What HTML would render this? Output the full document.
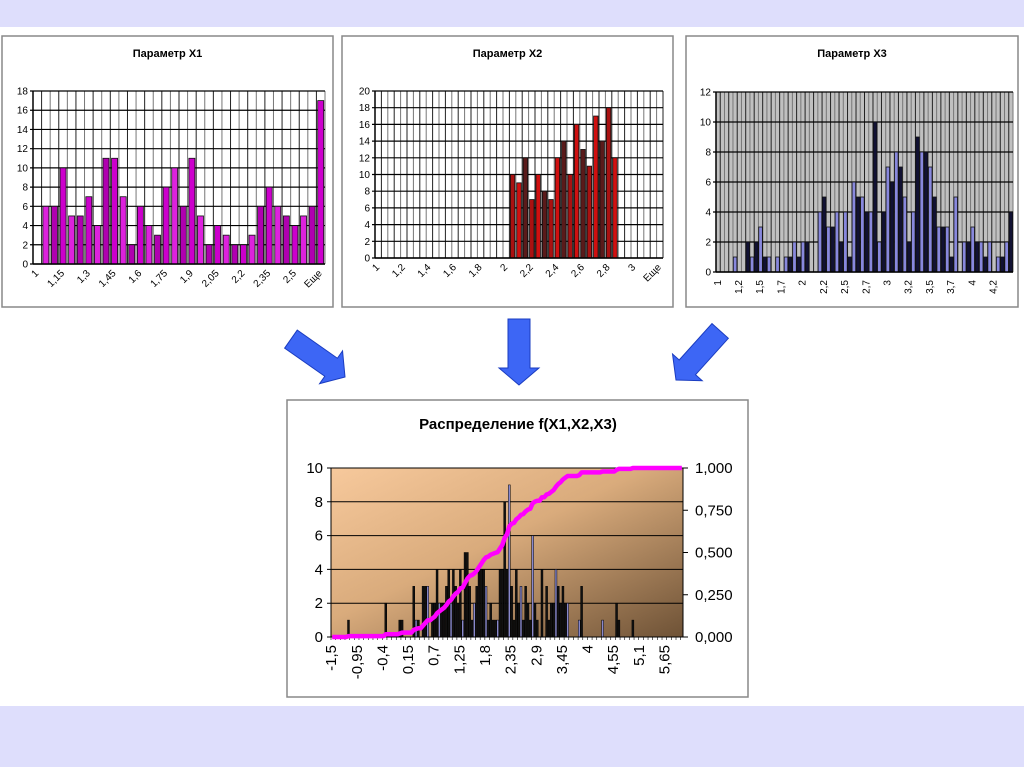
<!DOCTYPE html>
<html><head><meta charset="utf-8"><style>
html,body{margin:0;padding:0;background:#fff;}
svg{display:block;font-family:"Liberation Sans",sans-serif;}
</style></head><body>
<svg id="s" width="1024" height="767" viewBox="0 0 1024 767" xmlns="http://www.w3.org/2000/svg">
<defs>
<linearGradient id="tan" x1="0" y1="0" x2="1" y2="1">
<stop offset="0" stop-color="#f7c99c"/><stop offset="0.45" stop-color="#d9ab7c"/><stop offset="1" stop-color="#6e5236"/>
</linearGradient>
</defs>
<rect x="0" y="0" width="1024" height="27" fill="#dedefc"/>
<rect x="0" y="706" width="1024" height="61" fill="#dedefc"/>
<g id="arrows"></g>
</svg>
<script>
function fmt(v, d) { let s = (Math.round(v * 100000) / 100000).toFixed(d); s = s.replace(/\.?0+$/, ''); if (s === '-0') s = '0'; return s.replace('.', ','); }
function fmtFloor(v) { return fmt(Math.floor(v * 10 + 1e-6) / 10, 1); }
// ---- data ----
const x1Cats = ["1","1,05","1,1","1,15","1,2","1,25","1,3","1,35","1,4","1,45","1,5","1,55","1,6","1,65","1,7","1,75","1,8","1,85","1,9","1,95","2","2,05","2,1","2,15","2,2","2,25","2,3","2,35","2,4","2,45","2,5","2,55","2,6","Еще"];
const x1Values = [0,6,6,10,5,5,7,4,11,11,7,2,6,4,3,8,10,6,11,5,2,4,3,2,2,3,6,8,6,5,4,5,6,17];
const x1Ticks = [0,2,4,6,8,10,12,14,16,18];

const x2Cats = [];
for (let i = 0; i < 44; i++) x2Cats.push(fmt(1 + i * 0.05, 2));
x2Cats.push("Еще");
const x2Values = [0,0,0,0,0,0,0,0,0,0,0,0,0,0,0,0,0,0,0,0,0,10,9,12,7,10,8,7,12,14,10,16,13,11,17,14,18,12,0,0,0,0,0,0,0];
const x2Ticks = [0,2,4,6,8,10,12,14,16,18,20];

const x3Cats = [];
for (let i = 0; i < 70; i++) x3Cats.push(fmtFloor(1 + i * 0.05));
const x3Values = [0,0,0,0,1,0,0,2,1,2,3,1,1,0,1,0,1,1,2,1,2,2,0,0,4,5,3,3,4,2,4,1,6,5,5,4,4,10,2,4,7,6,8,7,5,2,4,9,8,8,7,5,3,3,3,1,5,0,2,2,3,2,2,1,2,0,1,1,2,4];
const x3Ticks = [0,2,4,6,8,10,12];

const fCats = [];
for (let i = 0; i < 151; i++) fCats.push(fmt(-1.5 + i * 0.05, 2));
const fValues = [0,0,0,0,0,0,0,1,0,0,0,0,0,0,0,0,0,0,0,0,0,0,0,2,0,0,0,0,0,1,1,0,0,0,0,3,1,1,0,3,3,3,0,2,2,4,2,2,2,3,4,2,4,3,2,4,1,5,5,3,1,2,3,4,4,4,3,1,2,1,1,1,4,4,8,4,9,3,1,4,2,3,1,3,2,1,6,2,1,0,4,0,3,1,2,2,4,3,2,3,2,2,0,0,0,0,1,3,0,0,0,0,0,0,0,0,1,0,0,0,0,0,2,1,0,0,0,0,0,1,0,0,0,0,0,0,0,0,0,0,0,0,0,0,0,0,0,0,0,0,0];
const fTicksL = [0,2,4,6,8,10];
const fTicksR = ["0,000","0,250","0,500","0,750","1,000"];

const NS = "http://www.w3.org/2000/svg";
const svg = document.getElementById('s');
function mk(tag, attrs, parent, text) {
  const e = document.createElementNS(NS, tag);
  for (const k in attrs) e.setAttribute(k, attrs[k]);
  if (text !== undefined) e.textContent = text;
  (parent || svg).appendChild(e);
  return e;
}

function smallChart(opt) {
  const g = mk('g', {});
  
  
  const box = mk('rect', {x: opt.bx, y: 36, width: opt.bw, height: 271, fill: '#fff', stroke: '#888', 'stroke-width': 1.5}, g);
  
  
  const t = mk('text', {x: opt.bx + opt.bw / 2, y: 57, 'font-size': 11, 'font-weight': 'bold', 'text-anchor': 'middle'}, g, opt.title);
  
  
  const L = opt.L, R = opt.R, T = opt.T, B = opt.B;
  const n = opt.cats.length, cw = (R - L) / n;
  const xs = i => L + i * cw;
  const ys = v => B - (v / opt.max) * (B - T);
  mk('rect', {x: L, y: T, width: R - L, height: B - T, fill: opt.bg}, g);
  for (let i = 0; i <= n; i++) {
    const ln = mk('line', {x1: xs(i), x2: xs(i), y1: T, y2: B, stroke: i % 2 ? '#222' : '#777', 'stroke-width': 1}, g);
    
    
  }
  opt.ticks.forEach(v => {
    const ln = mk('line', {x1: L - 3, x2: R, y1: ys(v), y2: ys(v), stroke: '#000', 'stroke-width': 1.2}, g);
    
    
    const tl = mk('text', {x: L - 5, y: ys(v) + 3.5, 'font-size': 10, 'text-anchor': 'end'}, g, String(v));
    
    
  });
  opt.values.forEach((v, i) => {
    if (!v) return;
    const bw = cw * opt.barFrac;
    const r = mk('rect', {x: xs(i) + (cw - bw) / 2, y: ys(v), width: bw, height: B - ys(v), fill: opt.colors[i % opt.colors.length], stroke: '#111', 'stroke-width': 0.8}, g);
    
    
  });
  mk('line', {x1: L, x2: L, y1: T, y2: B, stroke: '#000', 'stroke-width': 1.5}, g);
  mk('line', {x1: L, x2: R, y1: B, y2: B, stroke: '#000', 'stroke-width': 1.5}, g);
  opt.cats.forEach((c, i) => {
    if (i % opt.every) return;
    const cx = xs(i) + cw / 2, cy = B + 8;
    const tl = mk('text', {x: cx, y: cy, 'font-size': 10, 'text-anchor': 'end', transform: `rotate(${opt.rot} ${cx} ${cy})`, 'dominant-baseline': 'middle'}, g, c);
    
    
  });
}

smallChart({name: 'chart-x1', title: 'Параметр X1', bx: 2, bw: 331, L: 33, R: 325, T: 91, B: 264, max: 18,
  cats: x1Cats, values: x1Values, ticks: x1Ticks, bg: '#fff', colors: ['#cc00cc', '#dd22dd', '#b000b0'], barFrac: 0.7, every: 3, rot: -45});
smallChart({name: 'chart-x2', title: 'Параметр X2', bx: 342, bw: 331, L: 375, R: 663, T: 91, B: 258, max: 20,
  cats: x2Cats, values: x2Values, ticks: x2Ticks, bg: '#fff', colors: ['#aa1111', '#d01010', '#5a1a1a'], barFrac: 0.7, every: 4, rot: -45});
smallChart({name: 'chart-x3', title: 'Параметр X3', bx: 686, bw: 332, L: 716, R: 1013, T: 92, B: 272, max: 12,
  cats: x3Cats, values: x3Values, ticks: x3Ticks, bg: '#c0c0c0', colors: ['#8888dd', '#111133'], barFrac: 0.85, every: 5, rot: -90});

// ---- bottom chart ----
(function () {
  const g = mk('g', {});
  
  
  const fr = mk('rect', {x: 287, y: 400, width: 461, height: 297, fill: '#fff', stroke: '#888', 'stroke-width': 1.5}, g);
  
  
  const t = mk('text', {x: 518, y: 429, 'font-size': 15, 'font-weight': 'bold', 'text-anchor': 'middle'}, g, 'Распределение f(X1,X2,X3)');
  
  
  const L = 331, R = 683, T = 468, B = 637;
  const n = fCats.length, cw = (R - L) / n;
  const xs = i => L + i * cw;
  const ys = v => B - (v / 10) * (B - T);
  const ys2 = p => B - p * (B - T);
  const pa = mk('rect', {x: L, y: T, width: R - L, height: B - T, fill: 'url(#tan)'}, g);
  
  
  fTicksL.forEach(v => {
    mk('line', {x1: L - 4, x2: R, y1: ys(v), y2: ys(v), stroke: '#000', 'stroke-width': 1}, g);
    const tl = mk('text', {x: L - 8, y: ys(v) + 5, 'font-size': 15, 'text-anchor': 'end'}, g, String(v));
    
    
  });
  fTicksR.forEach((s, i) => {
    const p = i / (fTicksR.length - 1);
    mk('line', {x1: R, x2: R + 5, y1: ys2(p), y2: ys2(p), stroke: '#000', 'stroke-width': 1}, g);
    const tl = mk('text', {x: R + 12, y: ys2(p) + 5, 'font-size': 15}, g, s);
    
    
  });
  fValues.forEach((v, i) => {
    if (!v) return;
    const r = mk('rect', {x: xs(i) + 0.2, y: ys(v), width: cw - 0.4, height: B - ys(v), fill: i % 5 === 1 ? '#8888cc' : '#111', stroke: '#000', 'stroke-width': 0.5}, g);
    
    
  });
  for (let i = 0; i <= n; i += 2) mk('line', {x1: xs(i), x2: xs(i), y1: B, y2: B + 3, stroke: '#000', 'stroke-width': 0.6}, g);
  mk('line', {x1: L, x2: R, y1: B, y2: B, stroke: '#000', 'stroke-width': 1}, g);
  mk('line', {x1: L, x2: L, y1: T, y2: B, stroke: '#000', 'stroke-width': 1}, g);
  mk('line', {x1: R, x2: R, y1: T, y2: B, stroke: '#000', 'stroke-width': 1}, g);
  const total = fValues.reduce((a, b) => a + b, 0);
  let cum = 0, pts = [];
  fValues.forEach((v, i) => { cum += v; pts.push(`${(xs(i) + cw / 2).toFixed(1)},${ys2(cum / total).toFixed(1)}`); });
  const cdf = mk('polyline', {points: pts.join(' '), fill: 'none', stroke: '#ff00ff', 'stroke-width': 4.5, 'stroke-linejoin': 'round'}, g);
  
  
  fCats.forEach((c, i) => {
    if (i % 11) return;
    const cx = xs(i) + cw / 2, cy = B + 8;
    const tl = mk('text', {x: cx, y: cy, 'font-size': 15, 'text-anchor': 'end', 'dominant-baseline': 'middle', transform: `rotate(-90 ${cx} ${cy})`}, g, c);
    
    
  });
})();

// ---- arrows ----
const ag = document.getElementById('arrows');
svg.appendChild(ag);
[[345, 377, -55, 'arrow-x1'], [519, 385, 0, 'arrow-x2'], [676, 380, 42, 'arrow-x3']].forEach(a => {
  const p = mk('polygon', {points: '0,0 -20,-17 -11,-17 -11,-66 11,-66 11,-17 20,-17', fill: '#3d66f5', stroke: '#1a3cc0', 'stroke-width': 1, transform: `translate(${a[0]} ${a[1]}) rotate(${a[2]})`}, ag);
  
  
});
</script>
</body></html>
